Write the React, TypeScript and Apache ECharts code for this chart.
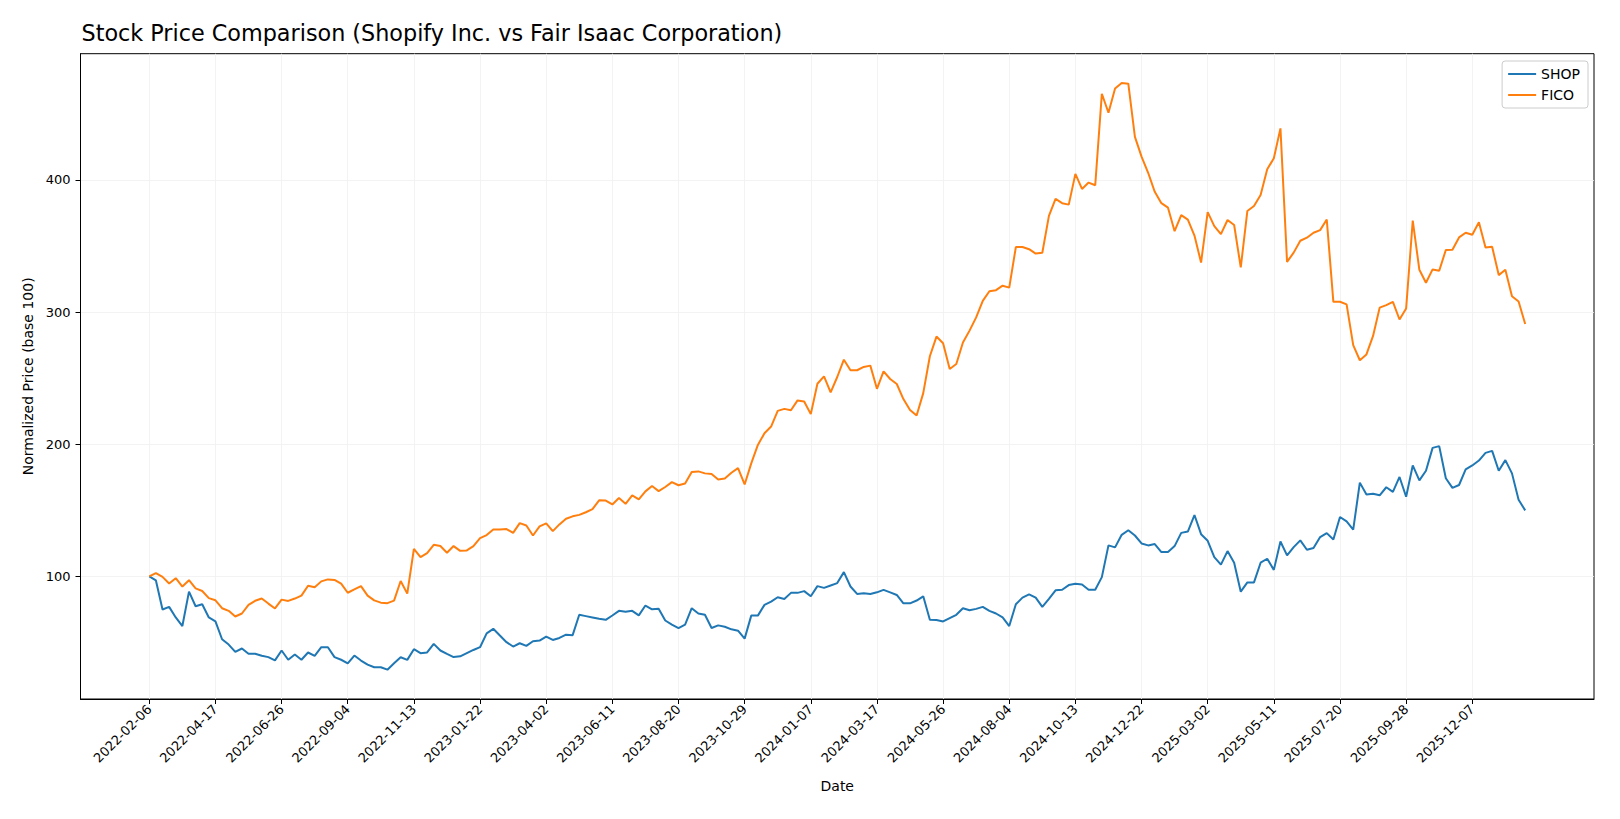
import React, { useEffect, useRef } from 'react';
import * as echarts from 'echarts';

// weekly closes normalised to 100 on 2022-02-06 (index = weeks since start)
const shopValues = [
  100, 97, 75, 77, 69, 62.5, 88.5, 77.5, 79, 69,
  66, 52.5, 48.5, 43, 45.5, 41.5, 41.5, 40, 39, 36.5,
  44, 37, 41, 37, 42.5, 40, 46.5, 46.5, 39, 37,
  34.3, 40.2, 36.4, 33.3, 31.3, 31.3, 29.5, 34.3, 38.9, 36.9,
  45, 42, 42.5, 49, 44, 41.4, 39, 39.6, 42, 44.4,
  46.5, 57, 60.4, 55.3, 50.3, 47, 49.5, 47.5, 51, 51.5,
  54.5, 52, 53.5, 56, 55.6, 71, 70, 69, 68, 67.2,
  70.5, 74, 73.3, 74, 70.6, 78, 75.2, 75.6, 66.7, 63.6,
  61, 63.6, 76, 72, 71, 61, 63, 62, 60, 59,
  53, 70.4, 70.4, 78.5, 81, 84.3, 83, 87.6, 87.6, 88.9,
  85, 92.7, 91.4, 93.2, 95, 103.3, 92.4, 86.8, 87.3, 86.8,
  88, 89.9, 88, 86, 79.7, 79.7, 81.8, 85, 67.3, 67,
  66, 68.5, 71, 76, 74.5, 75.5, 77, 74, 72, 69,
  62.5, 79, 84, 86.5, 84, 77, 83, 89.5, 90, 93.5,
  94.5, 94, 90, 90, 99.5, 123.5, 122, 131.5, 135, 131,
  125, 123.5, 124.5, 118.5, 118.5, 123, 133, 134, 146.5, 132,
  127, 114.6, 109, 119.2, 110.4, 88.5, 95.5, 95.5, 110.4, 113.4,
  105, 126.5, 116, 122.2, 127.3, 120.2, 121.5, 129.8, 132.8, 128,
  145, 141.7, 135.4, 171, 162, 162.6, 161.4, 167.5, 164, 175.3,
  160.3, 184, 172.7, 180, 197.3, 198.6, 174.3, 167, 169.2, 181,
  184, 187.7, 193.5, 195, 180, 188, 178, 158, 150,
];

const ficoValues = [
  100, 102.5, 99.7, 94.7, 98.7, 92.4, 97.2, 91, 89, 83.6,
  82, 76, 74, 69.7, 72, 78.5, 81.6, 83.3, 79.5, 75.8,
  82.5, 81.5, 83.3, 85.5, 93, 91.8, 96.3, 97.8, 97.4, 94.6,
  87.7, 90.2, 92.7, 85.5, 81.9, 80.2, 79.8, 81.7, 96.6, 87,
  120.8, 114.6, 117.7, 124, 123, 118, 123, 119.4, 119.7, 123,
  129, 131.3, 135.6, 135.6, 135.9, 133, 140.4, 138.6, 131, 137.9,
  140.2, 134.3, 139.4, 143.7, 145.5, 146.6, 148.6, 151, 157.6, 157.4,
  154.5, 159.3, 155, 161.4, 158.3, 164.4, 168.4, 164.6, 167.7, 171.4,
  169, 170.4, 179, 179.5, 178, 177.5, 173.4, 174.2, 178.5, 182,
  169.6, 185.6, 199.5, 208.4, 213.4, 225.3, 226.8, 225.8, 233.2, 232.4,
  222.8, 245.8, 251.4, 239.2, 250.9, 264, 256, 256, 258.5, 259.5,
  242, 255.2, 249.4, 245.6, 234.2, 226, 221.8, 238.7, 266.6, 281.5,
  276.5, 257, 260.7, 277, 286, 296, 308.5, 315.8, 316.6, 320,
  318.5, 349.2, 349.2, 347.6, 344.3, 344.9, 372.8, 385.6, 382.4, 381.3,
  404.6, 393.2, 398, 396, 465.2, 450.8, 469.2, 473.3, 472.8, 432.6,
  417.6, 405.4, 391, 382.4, 379, 361.2, 373.4, 370, 357.9, 337.5,
  375.6, 365, 359, 369.7, 365.9, 333.8, 376.5, 380.3, 388.6, 408,
  416.4, 439, 338, 345, 354, 356.3, 360, 362, 370, 307.8,
  307.8, 305.8, 275, 263.6, 268, 282, 303.4, 305.3, 307.8, 294.4,
  302.8, 369.2, 332, 322.2, 332.3, 331.3, 347, 347.2, 356.5, 360,
  358.5, 368, 348.8, 349.5, 328, 332, 312, 308, 291,
];

// x ticks every 10 weeks
const tickWeeks = [0, 10, 20, 30, 40, 50, 60, 70, 80, 90, 100, 110, 120, 130, 140, 150, 160, 170, 180, 190, 200];
const tickLabels = [
  '2022-02-06', '2022-04-17', '2022-06-26', '2022-09-04', '2022-11-13',
  '2023-01-22', '2023-04-02', '2023-06-11', '2023-08-20', '2023-10-29',
  '2024-01-07', '2024-03-17', '2024-05-26', '2024-08-04', '2024-10-13',
  '2024-12-22', '2025-03-02', '2025-05-11', '2025-07-20', '2025-09-28',
  '2025-12-07',
];
const yTicks = [100, 200, 300, 400];

const FONT = 'DejaVu Sans';

const App: React.FC = () => {
  const chartRef = useRef<HTMLDivElement>(null);

  useEffect(() => {
    if (!chartRef.current) return;
    const chart = echarts.init(chartRef.current, undefined, { renderer: 'svg' });

    const n = shopValues.length - 1;
    const all = [...shopValues, ...ficoValues];
    const lo = Math.min(...all);
    const hi = Math.max(...all);
    const pad = (hi - lo) * 0.05;

    const gridLine = { show: true, lineStyle: { color: '#f0f0f0', width: 0.8 } };

    chart.setOption({
      animation: false,
      backgroundColor: '#fff',
      title: {
        text: 'Stock Price Comparison (Shopify Inc. vs Fair Isaac Corporation)',
        left: 76.5,
        top: 17,
        textStyle: { fontFamily: FONT, fontSize: 22.3, fontWeight: 'normal', color: '#000' },
      },
      legend: {
        orient: 'vertical',
        right: 32,
        top: 61,
        icon: 'rect',
        itemWidth: 28,
        itemHeight: 2,
        itemGap: 7,
        padding: [6, 8, 6, 6],
        borderColor: '#cccccc',
        borderWidth: 1,
        borderRadius: 3,
        backgroundColor: '#fff',
        textStyle: { fontFamily: FONT, fontSize: 14, color: '#000' },
        data: ['SHOP', 'FICO'],
      },
      grid: {
        left: 80.5,
        top: 53.7,
        right: 26,
        bottom: 120,
        show: true,
        borderColor: '#000',
        borderWidth: 1,
        backgroundColor: 'transparent',
      },
      xAxis: {
        type: 'value',
        min: -n * 0.05,
        max: n * 1.05,
        name: 'Date',
        nameLocation: 'middle',
        nameGap: 80,
        nameTextStyle: { fontFamily: FONT, fontSize: 14, color: '#000' },
        axisLine: { show: true, onZero: false, lineStyle: { color: '#000', width: 1 } },
        axisTick: { show: true, length: 5, customValues: tickWeeks, lineStyle: { color: '#000' } },
        axisLabel: {
          customValues: tickWeeks,
          rotate: 45,
          margin: 8,
          fontFamily: FONT,
          fontSize: 13,
          color: '#000',
          formatter: (v: number) => tickLabels[tickWeeks.indexOf(Math.round(v))] ?? '',
        },
        splitLine: gridLine,
      },
      yAxis: {
        type: 'value',
        min: lo - pad,
        max: hi + pad,
        name: 'Normalized Price (base 100)',
        nameLocation: 'middle',
        nameGap: 46,
        nameRotate: 90,
        nameTextStyle: { fontFamily: FONT, fontSize: 14, color: '#000' },
        axisLine: { show: true, onZero: false, lineStyle: { color: '#000', width: 1 } },
        axisTick: { show: true, length: 5, customValues: yTicks, lineStyle: { color: '#000' } },
        axisLabel: {
          customValues: yTicks,
          margin: 10,
          fontFamily: FONT,
          fontSize: 13,
          color: '#000',
        },
        splitLine: gridLine,
      },
      series: [
        {
          name: 'SHOP',
          type: 'line',
          data: shopValues.map((v, i) => [i, v]),
          showSymbol: false,
          lineStyle: { color: '#1f77b4', width: 2 },
          itemStyle: { color: '#1f77b4' },
        },
        {
          name: 'FICO',
          type: 'line',
          data: ficoValues.map((v, i) => [i, v]),
          showSymbol: false,
          lineStyle: { color: '#ff7f0e', width: 2 },
          itemStyle: { color: '#ff7f0e' },
        },
      ],
    });

    return () => {
      chart.dispose();
    };
  }, []);

  return (
    <div
      ref={chartRef}
      style={{ position: 'fixed', left: 0, top: 0, width: 1620, height: 819 }}
    />
  );
};

export default App;
